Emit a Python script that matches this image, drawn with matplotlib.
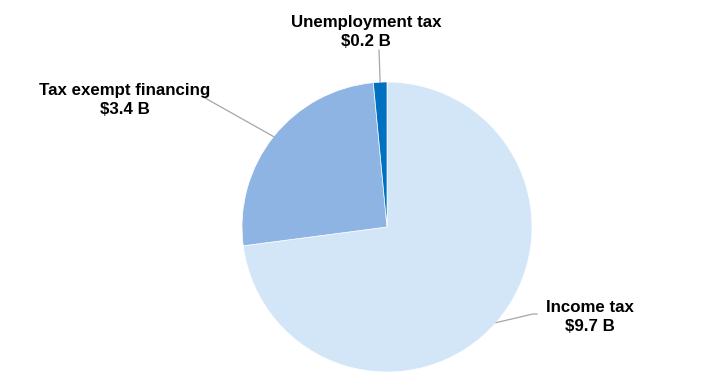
import numpy as np
import matplotlib.pyplot as plt

# Daten
labels = ["Income tax", "Tax exempt financing", "Unemployment tax"]
values = [9.7, 3.4, 0.2]
colors = ["#D2E6F8", "#8EB4E3", "#0070C0"]

# Layout in Pixeln (y nach oben)
W, H = 717, 390
cx, cy, r = 387, H - 227, 145
# Textpositionen und Endpunkte der Hilfslinien
text_pos = {
    "Income tax": (590, H - 317),
    "Tax exempt financing": (125, H - 100),
    "Unemployment tax": (366, H - 32),
}
line_end = {
    "Income tax": [(533, H - 314), (537, H - 314)],
    "Tax exempt financing": [(205, H - 98)],
    "Unemployment tax": [(379, H - 50)],
}

plt.rcParams["font.family"] = ["Liberation Sans", "DejaVu Sans"]
fig = plt.figure(figsize=(W / 100, H / 100), dpi=100)
ax = fig.add_axes([0, 0, 1, 1])

wedges, _ = ax.pie(values, colors=colors, startangle=90, counterclock=False,
                   center=(cx, cy), radius=r, frame=True,
                   wedgeprops=dict(edgecolor="white", linewidth=0.5))
ax.set_xlim(0, W)
ax.set_ylim(0, H)
ax.set_aspect("equal")
ax.axis("off")

for w, lab, val in zip(wedges, labels, values):
    ang = np.deg2rad((w.theta1 + w.theta2) / 2)
    x0, y0 = cx + r * np.cos(ang), cy + r * np.sin(ang)
    pts = [(x0, y0)] + line_end[lab]
    ax.plot([p[0] for p in pts], [p[1] for p in pts], color="#A6A6A6", lw=0.9)
    tx, ty = text_pos[lab]
    ax.text(tx, ty, f"{lab}\n${val} B", ha="center", va="center",
            fontsize=12.2, fontweight="bold", color="black", linespacing=1.3)

fig.savefig("out.png", dpi=100)
